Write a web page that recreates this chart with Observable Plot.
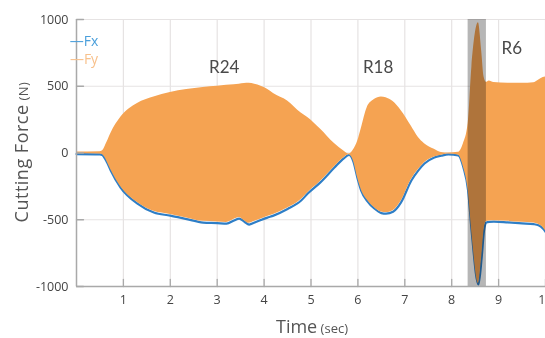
<!DOCTYPE html>
<html>
<head>
<meta charset="utf-8">
<script src="https://cdn.jsdelivr.net/npm/d3@7"></script>
<script src="https://cdn.jsdelivr.net/npm/@observablehq/plot@0.6"></script>
<style>
  html, body { margin: 0; padding: 0; background: #fff; }
  #chart svg { display: block; }
</style>
</head>
<body>
<div id="chart"></div>
<script>
// ---- data ----
const time    = [0, 0.5, 0.55, 0.65, 0.73, 0.94, 1.3, 1.65, 2.0, 2.35, 2.7, 3.0, 3.2, 3.36, 3.47, 3.58, 3.68, 3.8, 4.07, 4.2, 4.5, 4.79, 4.93, 5.2, 5.5, 5.7, 5.81, 5.9, 6.0, 6.07, 6.2, 6.35, 6.5, 6.6, 6.75, 6.92, 7.14, 7.29, 7.42, 7.63, 7.78, 7.93, 8.14, 8.25, 8.35, 8.43, 8.57, 8.64, 8.69, 8.74, 8.8, 8.9, 9.2, 9.5, 9.75, 9.85, 9.95, 10];
const fyUpper = [8, 10, 15, 80, 145, 266, 371, 420, 453, 475, 491, 500, 508, 512, 515, 520, 522, 515, 478, 446, 390, 300, 266, 180, 71, 15, -8, 20, 94, 180, 341, 400, 420, 414, 385, 319, 200, 116, 70, 28, 4, 0, 5, 70, 220, 643, 975, 760, 570, 530, 540, 528, 522, 522, 526, 545, 565, 570];
const fyLower = [-6, -8, -12, -63, -124, -250, -370, -437, -460, -486, -512, -516, -520, -497, -483, -507, -527, -512, -476, -461, -412, -348, -297, -213, -103, -35, -13, -54, -193, -273, -352, -408, -442, -446, -432, -362, -199, -124, -73, -30, -17, -8, -15, -104, -276, -600, -978, -775, -575, -514, -509, -507, -512, -519, -525, -534, -560, -583];
const fxLower = [-8, -10, -15, -70, -131, -259, -379, -446, -469, -495, -521, -525, -529, -505, -491, -515, -536, -520, -484, -469, -420, -356, -304, -220, -109, -40, -15, -60, -200, -281, -360, -416, -450, -454, -440, -370, -206, -130, -79, -34, -20, -11, -19, -109, -281, -604, -985, -780, -580, -521, -516, -514, -520, -527, -533, -541, -568, -590];

const xTicks = [1, 2, 3, 4, 5, 6, 7, 8, 9, 10];
const yTicks = [-1000, -500, 0, 500, 1000];
const highlight = [{start: 8.35, end: 8.74}];
const regionLabels = [
  {label: "R24", t: 3.15, v: 640},
  {label: "R18", t: 6.43, v: 640},
  {label: "R6",  t: 9.28, v: 785}
];
const seriesNames = ["Fx", "Fy"];

const data = time.map((t, i) => ({t, up: fyUpper[i], lo: fyLower[i], fx: fxLower[i]}));

const ORANGE = "#f5a352";
const BLUE = "#2e7ec6";
const GRID = "#e6e3e3";
const AXIS = "#a9a9a9";
const FONT = "'Open Sans', 'Noto Sans', sans-serif";
const tickShape = {draw(ctx, l) { ctx.moveTo(0, 0); ctx.lineTo(0, -l); }};

const chart = Plot.plot({
  width: 545,
  height: 338,
  marginLeft: 76,
  marginRight: 0,
  marginTop: 19,
  marginBottom: 52,
  style: {fontFamily: FONT, background: "#fff"},
  x: {domain: [0, 10]},
  y: {domain: [-1000, 1000]},
  marks: [
    Plot.gridX(xTicks, {stroke: GRID, strokeOpacity: 1, strokeWidth: 1.2}),
    Plot.gridY(yTicks, {stroke: GRID, strokeOpacity: 1, strokeWidth: 1.2}),
    Plot.line(data, {x: "t", y: "fx", stroke: BLUE, strokeWidth: 2.2, curve: "monotone-x"}),
    Plot.areaY(data, {x: "t", y1: "lo", y2: "up", fill: ORANGE, curve: "monotone-x"}),
    Plot.rect(highlight, {x1: "start", x2: "end", y1: -1000, y2: 1000, fill: "#b6b6b6", mixBlendMode: "multiply"}),
    Plot.ruleX([0], {stroke: AXIS, strokeWidth: 1.5}),
    Plot.ruleY([-1000], {stroke: AXIS, strokeWidth: 1.5}),
    Plot.vector(xTicks, {x: d => d, y: -1000, length: 7, rotate: 0, anchor: "start", stroke: AXIS, strokeWidth: 1.3, shape: tickShape}),
    Plot.vector(yTicks, {x: 0, y: d => d, length: 7, rotate: 90, anchor: "start", stroke: AXIS, strokeWidth: 1.3, shape: tickShape}),
    Plot.axisX(xTicks, {tickSize: 0, tickPadding: 9, fontSize: 12.5, fill: "#444", label: null, tickFormat: d => String(d)}),
    Plot.axisY(yTicks, {tickSize: 0, tickPadding: 8, fontSize: 12.5, fill: "#444", label: null, tickFormat: d => String(d)}),
    Plot.text(regionLabels, {x: "t", y: "v", text: "label", fontSize: 17, fill: "#4a4a4a", fontFamily: "Lato, 'Open Sans', sans-serif"})
  ]
});

document.getElementById("chart").appendChild(chart);

// axis titles with mixed sizes and legend
const svg = d3.select(chart);
const xt = svg.append("text")
  .attr("x", 312).attr("y", 333)
  .attr("text-anchor", "middle")
  .attr("fill", "#555")
  .style("font-family", FONT);
xt.append("tspan").attr("font-size", 18).text("Time");
xt.append("tspan").attr("font-size", 13).text(" (sec)");

const yt = svg.append("text")
  .attr("transform", "translate(28,152) rotate(-90)")
  .attr("text-anchor", "middle")
  .attr("fill", "#555")
  .style("font-family", FONT)
  .style("letter-spacing", "0.5px");
yt.append("tspan").attr("font-size", 18).text("Cutting Force");
yt.append("tspan").attr("font-size", 13).text(" (N)");

const legendColors = ["#4a9fdb", "#f8c18c"];
seriesNames.forEach((name, i) => {
  svg.append("text")
    .attr("x", 84).attr("y", 46 + i * 18)
    .attr("fill", legendColors[i])
    .attr("font-size", 14)
    .style("font-family", FONT)
    .text("\u2014" + name);
});
</script>
</body>
</html>
